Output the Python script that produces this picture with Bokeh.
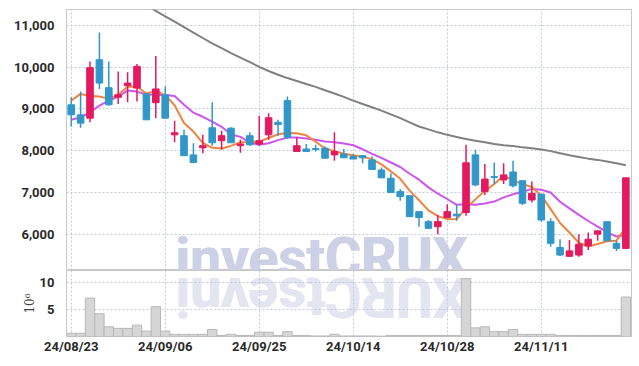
import math
from bokeh.plotting import figure
from bokeh.layouts import column
from bokeh.models import ColumnDataSource, FixedTicker, Label, Range1d, NumeralTickFormatter
from bokeh.embed import file_html
from bokeh.resources import INLINE

dates = ["24/08/23", "24/08/26", "24/08/27", "24/08/28", "24/08/29", "24/08/30",
         "24/09/02", "24/09/03", "24/09/04", "24/09/05", "24/09/06", "24/09/09",
         "24/09/10", "24/09/11", "24/09/12", "24/09/13", "24/09/19", "24/09/20",
         "24/09/23", "24/09/24", "24/09/25", "24/09/26", "24/09/27", "24/09/30",
         "24/10/02", "24/10/04", "24/10/07", "24/10/08", "24/10/10", "24/10/11",
         "24/10/14", "24/10/15", "24/10/16", "24/10/17", "24/10/18", "24/10/21",
         "24/10/22", "24/10/23", "24/10/24", "24/10/25", "24/10/28", "24/10/29",
         "24/10/30", "24/10/31", "24/11/01", "24/11/04", "24/11/05", "24/11/06",
         "24/11/07", "24/11/08", "24/11/11", "24/11/12", "24/11/13", "24/11/14",
         "24/11/15", "24/11/18", "24/11/19", "24/11/20", "24/11/21", "24/11/22"]

opens = [9100, 8860, 8780, 10180, 9510, 9280, 9560, 9500, 9360, 9150,
         9340, 8380, 8360, 7900, 8070, 8550, 8240, 8540, 8120, 8360,
         8160, 8380, 8680, 9200, 7980, 8040, 8050, 8060, 7900, 7920,
         7860, 7880, 7780, 7540, 7340, 7020, 6920, 6540, 6300, 6180,
         6400, 6480, 6520, 7900, 7020, 7380, 7300, 7490, 7280, 6820,
         6960, 6300, 5680, 5470, 5500, 5720, 6000, 6300, 5780, 5660]
highs = [9280, 9420, 10140, 10830, 10140, 9900, 9880, 10080, 9380, 10270,
         9540, 8720, 8510, 8180, 8380, 9160, 8480, 8560, 8260, 8440,
         8840, 8900, 8740, 9300, 8320, 8160, 8140, 8100, 8440, 8040,
         7920, 7900, 7860, 7600, 7460, 7080, 6920, 6540, 6340, 6460,
         6720, 6700, 8140, 8020, 7680, 7720, 7700, 7760, 7280, 7260,
         6960, 6380, 5880, 5860, 6000, 6040, 6080, 6300, 5840, 7350]
lows = [8580, 8550, 8680, 9480, 9080, 9120, 9160, 9180, 8740, 8780,
        8780, 8200, 7880, 7700, 7940, 8120, 8020, 8190, 7950, 8120,
        8120, 8260, 8360, 8280, 7980, 7980, 7980, 7820, 7760, 7830,
        7800, 7700, 7550, 7350, 7000, 6800, 6420, 6180, 6120, 6000,
        6380, 6320, 6440, 7150, 6940, 7200, 7200, 7120, 6700, 6760,
        6300, 5700, 5480, 5460, 5460, 5620, 5840, 5840, 5600, 5660]
closes = [8860, 8660, 9990, 9620, 9100, 9340, 9620, 10020, 8740, 9480,
          8780, 8430, 7880, 7720, 8120, 8190, 8360, 8190, 8160, 8140,
          8240, 8790, 8630, 8320, 8120, 7980, 8030, 7820, 7980, 7830,
          7800, 7830, 7550, 7350, 7000, 6900, 6420, 6400, 6140, 6300,
          6540, 6440, 7710, 7180, 7320, 7360, 7420, 7160, 6740, 6980,
          6340, 5780, 5500, 5600, 5760, 5880, 6080, 5840, 5660, 7350]
volumes = [0.6, 0.6, 7.1, 4.2, 1.8, 1.5, 1.5, 2.1, 1.0, 5.5,
           1.0, 0.4, 0.4, 0.4, 0.4, 1.3, 0.2, 0.4, 0.2, 0.2,
           0.8, 0.8, 0.2, 0.9, 0.2, 0.2, 0.1, 0.1, 0.4, 0.1,
           0.1, 0.1, 0.1, 0.05, 0.2, 0.2, 0.2, 0.2, 0.2, 0.2,
           0.2, 0.2, 10.7, 1.6, 1.8, 0.9, 0.9, 1.3, 0.4, 0.4,
           0.4, 0.4, 0.2, 0.2, 0.2, 0.2, 0.2, 0.2, 0.2, 7.3]
ma5 = [9200, 9360, 9310, 9300, 9246, 9342, 9534, 9540, 9364, 9440,
       9328, 9090, 8662, 8458, 8186, 8068, 8054, 8116, 8204, 8208,
       8218, 8304, 8392, 8424, 8420, 8368, 8216, 8054, 7986, 7928,
       7892, 7852, 7798, 7672, 7506, 7326, 7044, 6814, 6572, 6432,
       6360, 6364, 6626, 6834, 7038, 7202, 7398, 7288, 7200, 7132,
       6928, 6600, 6268, 6040, 5796, 5704, 5764, 5832, 5844, 6162]
ma10 = [8740, 8800, 8920, 9080, 9200, 9296, 9440, 9416, 9344, 9343,
        9335, 9312, 9101, 8911, 8813, 8698, 8572, 8389, 8331, 8197,
        8143, 8179, 8254, 8314, 8314, 8293, 8260, 8223, 8205, 8174,
        8130, 8034, 7926, 7829, 7717, 7609, 7448, 7306, 7122, 6969,
        6843, 6704, 6720, 6703, 6735, 6781, 6881, 6957, 7017, 7085,
        7065, 6999, 6778, 6620, 6464, 6316, 6182, 6050, 5942, 5979]
ma_long = [12560, 12430, 12300, 12170, 12040, 11900, 11770, 11640, 11490, 11350,
           11220, 11090, 10960, 10830, 10700, 10570, 10460, 10340, 10230, 10120,
           10010, 9910, 9820, 9740, 9670, 9600, 9530, 9450, 9370, 9290,
           9200, 9120, 9040, 8960, 8870, 8780, 8680, 8580, 8510, 8440,
           8380, 8330, 8280, 8240, 8200, 8160, 8130, 8110, 8080, 8060,
           8030, 7990, 7940, 7890, 7850, 7810, 7780, 7740, 7700, 7650]
price_ticks = [6000, 7000, 8000, 9000, 10000, 11000]
volume_ticks = [5, 10]

UP = "#e31a5f"
DOWN = "#3197c9"
GRID = "#c3c7dc"
LABEL_FONT = "Roboto"
WM_SIZE = "55px"

xs = list(range(len(dates)))
date_ticks = xs[::10]
src = ColumnDataSource(dict(
    x=xs, o=opens, h=highs, l=lows, c=closes,
    top=[max(a, b) for a, b in zip(opens, closes)],
    bot=[min(a, b) for a, b in zip(opens, closes)],
    color=[UP if c >= o else DOWN for o, c in zip(opens, closes)],
    vol=volumes, ma5=ma5, ma10=ma10, mal=ma_long))

x_range = Range1d(-0.5, 59.6)

p = figure(width=632, height=270, x_range=x_range, y_range=Range1d(5130, 11383),
           output_backend="svg", toolbar_location=None,
           min_border_left=66, min_border_right=1, min_border_top=9, min_border_bottom=0)
p.xaxis.visible = False
p.outline_line_color = "#c8c8c8"
p.yaxis.ticker = FixedTicker(ticks=price_ticks)
p.yaxis.formatter = NumeralTickFormatter(format="0,0")
p.yaxis.axis_line_color = None
p.yaxis.major_tick_line_color = None
p.yaxis.minor_tick_line_color = None
p.yaxis.major_label_standoff = 6
p.yaxis.major_label_text_font = LABEL_FONT
p.yaxis.major_label_text_font_style = "bold"
p.yaxis.major_label_text_font_size = "13px"
p.yaxis.major_label_text_color = "#2a2a2a"
p.xgrid.ticker = FixedTicker(ticks=date_ticks)
for g in (p.xgrid, p.ygrid):
    g.grid_line_color = GRID
    g.grid_line_dash = "2 2"
    g.grid_line_width = 1

for dx in (0, 1.2):
    p.add_layout(Label(x=11.05, y=5440, x_offset=dx, text="investCRUX", text_font="Roboto",
                       text_font_style="bold", text_font_size=WM_SIZE, text_color="#cdd1e6",
                       text_baseline="alphabetic", text_align="left", level="image"))

p.line("x", "mal", source=src, line_color="#808080", line_width=2)
p.line("x", "ma10", source=src, line_color="#cc55ee", line_width=2)
p.line("x", "ma5", source=src, line_color="#f0843f", line_width=2)
p.segment(x0="x", y0="l", x1="x", y1="h", source=src, line_color="color", line_width=1.5)
p.vbar(x="x", top="top", bottom="bot", width=0.7, source=src,
       fill_color="color", line_color="color", line_width=1)

v = figure(width=632, height=95, x_range=x_range, y_range=Range1d(0, 12.2),
           output_backend="svg", toolbar_location=None,
           min_border_left=66, min_border_right=1, min_border_top=0, min_border_bottom=29)
v.outline_line_color = "#c8c8c8"
for dx in (0, 1.2):
    v.add_layout(Label(x=11.05, y=7.3, x_offset=dx, text="XURCtsevni", text_font="Roboto",
                       text_font_style="bold", text_font_size=WM_SIZE, text_color="#e3e5f1",
                       text_baseline="middle", text_align="right", angle=math.pi, level="image"))
v.vbar(x="x", top="vol", width=1.0, source=src, fill_color="#d6d6d6", line_color="#b8b8b8", line_width=1)
v.yaxis.ticker = FixedTicker(ticks=volume_ticks)
v.yaxis.axis_label = "10⁶"
v.yaxis.axis_label_text_font = "DejaVu Serif"
v.yaxis.axis_label_text_font_style = "normal"
v.yaxis.axis_label_text_font_size = "12px"
v.yaxis.axis_label_text_color = "#444444"
v.yaxis.axis_label_standoff = 0
v.xaxis.ticker = FixedTicker(ticks=date_ticks)
v.xaxis.major_label_overrides = {i: dates[i] for i in date_ticks}
for ax in (v.xaxis, v.yaxis):
    ax.axis_line_color = None
    ax.major_tick_line_color = None
    ax.minor_tick_line_color = None
    ax.major_label_text_font = LABEL_FONT
    ax.major_label_text_font_style = "bold"
    ax.major_label_text_font_size = "13px"
    ax.major_label_text_color = "#2a2a2a"
v.yaxis.major_label_standoff = 6
v.xaxis.major_label_standoff = -4
v.xgrid.ticker = FixedTicker(ticks=date_ticks)
for g in (v.xgrid, v.ygrid):
    g.grid_line_color = GRID
    g.grid_line_dash = "2 2"
    g.grid_line_width = 1

layout = column(p, v, spacing=0)
open("out.html", "w").write(file_html(layout, INLINE))
